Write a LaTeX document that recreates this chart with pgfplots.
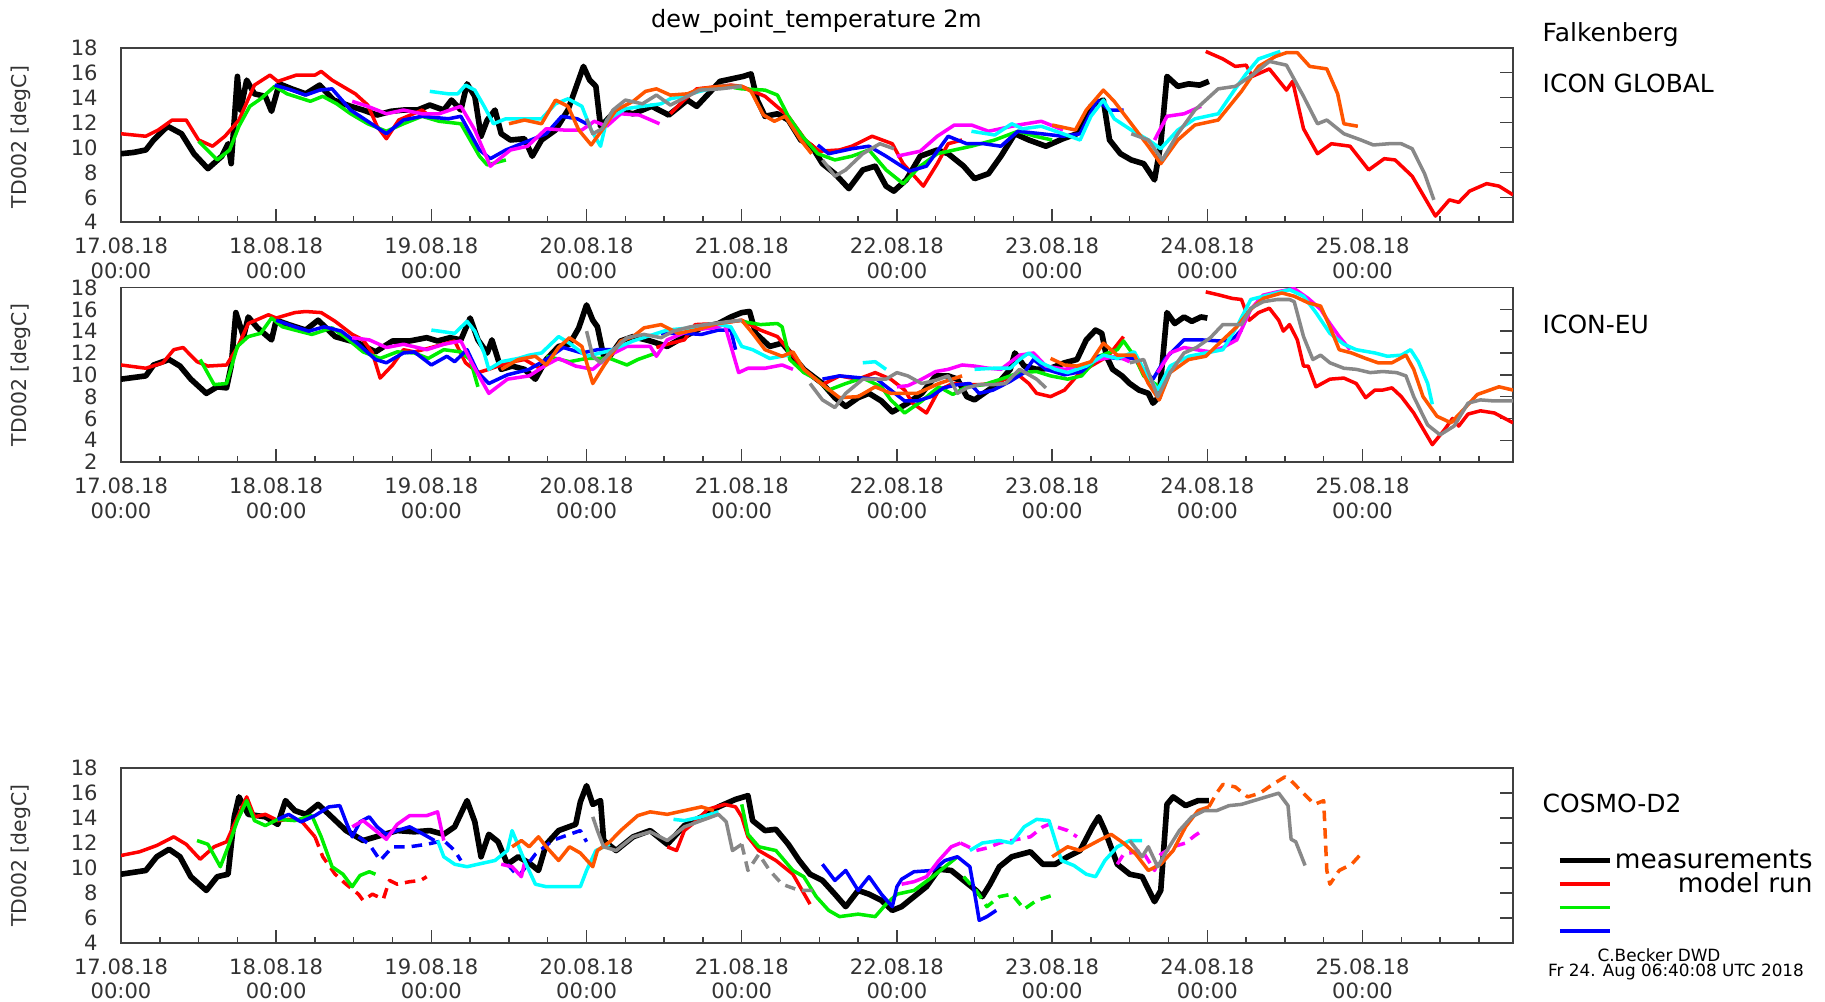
\documentclass[border=0pt]{standalone}
\usepackage{fontspec}
\setmainfont{DejaVu Sans}
\usepackage{pgfplots}
\pgfplotsset{compat=1.18}
\definecolor{cR}{RGB}{255,0,0}
\definecolor{cG}{RGB}{0,238,0}
\definecolor{cB}{RGB}{0,0,255}
\definecolor{cM}{RGB}{255,0,255}
\definecolor{cC}{RGB}{0,255,255}
\definecolor{cO}{RGB}{255,85,0}
\definecolor{cY}{RGB}{136,136,136}
\pgfplotsset{
  ms/.style={black, line width=1.6pt, line join=round},
  pr/.style={cR, line width=1pt, line join=round},
  pg/.style={cG, line width=1pt, line join=round},
  pb/.style={cB, line width=1pt, line join=round},
  pm/.style={cM, line width=1pt, line join=round},
  pc/.style={cC, line width=1pt, line join=round},
  po/.style={cO, line width=1pt, line join=round},
  py/.style={cY, line width=1pt, line join=round},
  dsh/.style={dash pattern=on 3pt off 2pt},
  panel/.style={
    scale only axis, width=13.92cm, height=1.746cm, anchor=south west,
    xmin=0, xmax=8.97,
    xtick={0,...,8}, minor xtick={0.25,0.5,...,8.75},
    xticklabels={{17.08.18\\00:00},{18.08.18\\00:00},{19.08.18\\00:00},{20.08.18\\00:00},{21.08.18\\00:00},{22.08.18\\00:00},{23.08.18\\00:00},{24.08.18\\00:00},{25.08.18\\00:00}},
    xticklabel style={align=center, font=\fontsize{6}{7}\selectfont, text=black!80, yshift=-0.35mm},
    yticklabel style={font=\fontsize{6}{7}\selectfont, text=black!80, xshift=-1.1mm},
    xtick pos=bottom, ytick pos=right, yticklabel pos=left,
    tick align=inside, major tick length=1.3mm, minor tick length=0.6mm,
    tick style={black!75, line width=0.4pt},
    axis line style={black!75, line width=0.5pt},
    /pgf/number format/assume math mode=true,
    clip=true,
  },
}
\begin{document}
\begin{tikzpicture}
\useasboundingbox (0,0) rectangle (18.25cm,10.01cm);
% ---------------- ICON GLOBAL ----------------
\begin{axis}[panel, at={(1.21cm,7.787cm)}, ymin=4, ymax=18, ytick={4,6,...,18}]
\addplot[ms] coordinates {(0,9.5)(0.08,9.6)(0.16,9.8)(0.21,10.6)(0.30,11.7)(0.39,11.1)(0.47,9.5)(0.56,8.3)(0.65,9.3)(0.69,10.3)(0.71,8.7)(0.75,15.7)(0.77,13)(0.81,15.4)(0.86,14.3)(0.93,14.1)(0.97,12.9)(1.02,15.1)(1.10,14.7)(1.19,14.3)(1.28,15)(1.37,13.8)(1.48,13.3)(1.56,13)(1.65,12.6)(1.74,12.9)(1.82,13)(1.91,13)(1.99,13.4)(2.08,13)(2.13,13.8)(2.19,13)(2.23,15.1)(2.28,14.1)(2.32,10.9)(2.36,12.2)(2.41,13)(2.45,11.1)(2.51,10.6)(2.60,10.7)(2.65,9.3)(2.71,10.6)(2.80,11.4)(2.88,13)(2.94,15.1)(2.98,16.5)(3.02,15.4)(3.06,14.9)(3.09,11.7)(3.13,12.2)(3.19,13)(3.30,12.7)(3.42,13.3)(3.53,12.6)(3.65,13.8)(3.71,13.3)(3.86,15.3)(4.01,15.7)(4.06,15.9)(4.10,13.8)(4.15,12.5)(4.23,12.7)(4.30,12.2)(4.38,10.6)(4.45,10.1)(4.52,8.7)(4.60,7.9)(4.69,6.7)(4.78,8.2)(4.86,8.5)(4.93,6.9)(4.98,6.5)(5.06,7.4)(5.15,9.3)(5.26,9.8)(5.33,9.5)(5.43,8.5)(5.50,7.5)(5.59,7.9)(5.67,9.3)(5.76,11.1)(5.85,10.6)(5.96,10.1)(6.07,10.7)(6.16,11.1)(6.25,13.3)(6.33,13.8)(6.37,10.6)(6.44,9.5)(6.51,9.0)(6.59,8.7)(6.66,7.4)(6.70,10.3)(6.74,15.7)(6.81,14.9)(6.88,15.1)(6.95,15.0)(7.01,15.3)};
\addplot[pr] coordinates {(0,11.1)(0.16,10.9)(0.24,11.4)(0.33,12.2)(0.42,12.2)(0.50,10.6)(0.59,10.1)(0.67,10.9)(0.76,12.2)(0.86,15)(0.96,15.8)(1.01,15.3)(1.13,15.8)(1.25,15.8)(1.29,16.1)(1.36,15.4)(1.51,14.3)(1.59,13.4)(1.65,11.7)(1.71,10.7)(1.79,12.2)(1.94,13)(1.99,12.5)};
\addplot[pr] coordinates {(3.54,12.7)(3.62,13.7)(3.71,14.7)(3.93,15.0)(4.0,14.9)(4.15,14.1)(4.30,12.5)(4.41,10.6)(4.50,9.7)(4.63,9.8)(4.71,10.1)(4.84,10.9)(4.97,10.3)(5.04,8.7)(5.17,6.9)(5.26,8.7)(5.33,10.3)(5.42,10.6)};
\addplot[pr] coordinates {(6.99,17.7)(7.10,17.1)(7.18,16.5)(7.25,16.6)(7.29,15.7)(7.40,16.3)(7.51,14.6)(7.55,15.3)(7.62,11.5)(7.71,9.5)(7.80,10.3)(7.92,10.1)(8.04,8.2)(8.14,9.1)(8.21,9.0)(8.32,7.7)(8.47,4.5)(8.56,5.8)(8.62,5.6)(8.69,6.5)(8.80,7.1)(8.88,6.9)(8.97,6.2)};
\addplot[pg] coordinates {(0.50,10.5)(0.62,9.0)(0.70,9.8)(0.76,11.7)(0.83,13.3)(0.90,13.9)(0.99,14.9)(1.07,14.3)(1.22,13.7)(1.30,14.1)(1.39,13.5)(1.48,12.7)(1.59,11.9)(1.71,11.3)(1.82,11.9)(1.94,12.5)(2.05,12.1)(2.19,11.9)(2.25,10.6)(2.31,9.3)(2.36,8.6)(2.48,9.0)};
\addplot[pg] coordinates {(3.95,14.8)(4.0,14.7)(4.15,14.6)(4.23,14.2)(4.30,12.5)(4.39,10.9)(4.49,9.5)(4.60,9.0)(4.71,9.3)(4.82,9.8)(4.93,8.2)(5.04,7.1)(5.15,8.5)(5.26,9.5)(5.37,9.8)(5.48,10.1)(5.63,10.6)(5.78,11.3)(5.89,10.9)(6.0,10.6)};
\addplot[pb] coordinates {(0.99,15)(1.10,14.6)(1.19,14.2)(1.28,14.6)(1.36,14.7)(1.48,13)(1.59,12.1)(1.71,11.1)(1.82,12.2)(1.94,12.5)(2.11,12.3)(2.19,12.5)(2.31,9.8)(2.38,9.1)(2.48,9.8)(2.62,10.5)(2.74,11.1)(2.84,12.5)(2.94,12.3)(3.03,11.7)};
\addplot[pb] coordinates {(4.49,10.2)(4.56,9.5)(4.71,9.9)(4.82,10.1)(4.93,9.3)(5.08,8.1)(5.19,8.5)(5.33,10.9)(5.45,10.3)(5.56,10.3)(5.67,10.1)(5.78,11.3)(5.93,11.1)(6.07,10.9)(6.18,11.1)(6.29,13.8)(6.37,13)(6.46,13)};
\addplot[pm] coordinates {(1.49,13.7)(1.59,13.3)(1.71,12.7)(1.82,13)(1.94,12.7)(2.05,12.7)(2.19,13.3)(2.28,11.4)(2.38,8.5)(2.51,9.8)(2.62,10.1)(2.74,11.5)(2.85,11.4)(2.97,11.4)(3.05,12.1)(3.13,11.7)(3.22,12.7)(3.34,12.6)(3.47,11.9)};
\addplot[pm] coordinates {(5.00,9.3)(5.15,9.7)(5.26,10.9)(5.37,11.8)(5.48,11.8)(5.59,11.3)(5.78,11.8)(5.93,12.1)(6.07,11.4)};
\addplot[pm] coordinates {(6.66,10.6)(6.74,12.5)(6.85,12.7)(6.96,13.3)};
\addplot[pc] coordinates {(1.99,14.5)(2.11,14.3)(2.17,14.3)(2.22,15)(2.28,14.6)(2.34,13.3)(2.40,11.9)(2.48,12.3)(2.60,12.3)(2.71,12.3)(2.80,13.5)(2.88,13.9)(2.97,13.3)(3.03,11.4)(3.09,10.1)(3.13,12.2)(3.25,13.1)(3.36,13.3)(3.48,13.5)(3.54,13.9)(3.62,14.1)(3.73,14.5)(3.86,14.9)(4.0,14.9)};
\addplot[pc] coordinates {(5.48,11.3)(5.63,11)(5.74,11.9)(5.81,11.5)(5.93,11.7)(6.07,11.1)(6.18,10.6)(6.25,12.5)(6.33,13.8)(6.40,12.3)(6.51,11.4)(6.62,10.6)(6.70,9.9)(6.81,11.4)(6.92,12.3)(7.07,12.7)(7.18,14.7)(7.25,15.9)(7.33,17.1)(7.47,17.7)};
\addplot[po] coordinates {(2.50,11.9)(2.60,12.2)(2.71,11.9)(2.80,13.8)(2.88,13.3)(2.95,11.4)(3.03,10.2)(3.10,11.4)(3.19,13)(3.30,13.7)(3.38,14.5)(3.45,14.7)(3.54,14.2)(3.65,14.3)(3.73,14.7)(3.86,14.9)(4.0,14.9)(4.06,14.5)(4.14,12.6)(4.21,12.1)(4.28,12.5)(4.38,10.6)(4.45,9.5)};
\addplot[po] coordinates {(6.0,11.8)(6.15,11.4)(6.22,13)(6.33,14.6)(6.40,13.7)(6.51,11.9)(6.62,10.1)(6.70,8.7)(6.81,10.6)(6.92,11.8)(7.07,12.2)(7.22,14.5)(7.33,16.5)(7.44,17.3)(7.51,17.6)(7.58,17.6)(7.66,16.5)(7.77,16.3)(7.84,14.3)(7.88,11.9)(7.97,11.7)};
\addplot[py] coordinates {(3.00,12.3)(3.04,11.1)(3.10,11.5)(3.17,13)(3.25,13.8)(3.36,13.5)(3.45,14.2)(3.54,13.4)(3.65,14.1)(3.73,14.6)(3.86,14.7)(4.0,14.9)};
\addplot[py] coordinates {(4.52,9.0)(4.60,7.7)(4.67,8.2)(4.78,9.5)(4.89,10.3)(4.98,9.9)};
\addplot[py] coordinates {(6.51,11.1)(6.62,10.6)(6.71,9.0)(6.81,11.1)(6.92,13)(7.07,14.7)(7.18,14.9)(7.29,15.8)(7.40,16.9)(7.51,16.6)(7.62,14.1)(7.71,11.9)(7.77,12.2)(7.88,11.1)(7.99,10.6)(8.07,10.2)(8.17,10.3)(8.25,10.3)(8.32,9.9)(8.40,7.9)(8.46,5.8)};
\end{axis}
% ---------------- ICON-EU ----------------
\begin{axis}[panel, at={(1.21cm,5.389cm)}, ymin=2, ymax=18, ytick={2,4,...,18}]
\addplot[ms] coordinates {(0,9.6)(0.16,9.9)(0.21,10.9)(0.31,11.4)(0.38,10.8)(0.45,9.6)(0.55,8.3)(0.62,8.9)(0.68,8.8)(0.71,10.8)(0.74,15.7)(0.79,13.5)(0.82,15.3)(0.88,14.3)(0.97,13.2)(1.0,15)(1.08,14.6)(1.19,14.1)(1.27,15)(1.38,13.5)(1.53,12.9)(1.64,12.1)(1.75,13.1)(1.86,13.1)(1.97,13.4)(2.04,13.1)(2.12,13.4)(2.19,13.2)(2.25,15.2)(2.30,13.2)(2.36,12)(2.39,13.2)(2.45,10.5)(2.52,10.8)(2.60,10.5)(2.67,9.6)(2.74,11.4)(2.82,12.6)(2.89,12.8)(2.95,14.3)(3.0,16.4)(3.04,15)(3.07,14.4)(3.11,11.7)(3.15,11.7)(3.22,13.1)(3.30,13.5)(3.41,13.1)(3.52,12.6)(3.63,13.5)(3.74,14.3)(3.85,14.7)(3.93,15.3)(4.0,15.7)(4.05,15.8)(4.09,13.8)(4.18,12.6)(4.26,12.9)(4.33,11.7)(4.40,10.5)(4.52,9.2)(4.60,7.9)(4.67,7.1)(4.75,7.9)(4.82,8.3)(4.90,7.6)(4.97,6.6)(5.07,7.4)(5.16,8.3)(5.25,9.9)(5.33,9.9)(5.39,9.6)(5.45,8)(5.50,7.7)(5.56,8.3)(5.65,9.2)(5.73,10.5)(5.76,12)(5.82,10.8)(5.90,10.5)(5.99,10.6)(6.08,11.1)(6.16,11.4)(6.22,13.2)(6.28,14.1)(6.32,13.8)(6.35,11.7)(6.39,10.5)(6.45,9.9)(6.50,9.2)(6.56,8.6)(6.62,8.3)(6.65,7.4)(6.69,8)(6.72,12.6)(6.74,15.7)(6.79,14.7)(6.85,15.3)(6.90,14.9)(6.96,15.3)(7.0,15.2)};
\addplot[pr] coordinates {(0,10.9)(0.16,10.6)(0.27,11.1)(0.34,12.3)(0.40,12.5)(0.49,11.2)(0.56,10.8)(0.68,10.9)(0.75,12.5)(0.82,14.7)(0.95,15.5)(1.0,15.2)(1.12,15.7)(1.19,15.8)(1.29,15.7)(1.38,14.9)(1.49,13.7)(1.56,13.2)(1.62,12)(1.67,9.7)(1.75,10.9)(1.82,12.3)(1.89,12.1)(2.0,12.5)(2.15,13.1)(2.22,11.1)(2.30,10.2)(2.37,10.5)(2.49,11.1)(2.60,11.4)(2.71,10.5)};
\addplot[pr] coordinates {(3.45,12.5)(3.52,12.8)(3.63,13.2)(3.70,14.6)(3.85,14.7)(4.0,15)(4.12,14.1)(4.23,13.5)(4.30,12.3)(4.40,10.5)(4.52,9.1)(4.63,9.9)(4.75,9.6)(4.86,10.2)(4.96,9.6)(5.05,8.6)(5.10,7.4)(5.19,6.5)(5.27,8.6)(5.36,9.2)(5.45,9.1)(5.53,9.1)(5.62,9.2)(5.70,9.6)(5.79,9.9)(5.85,9.2)(5.90,8.3)(5.99,8)(6.08,8.6)(6.16,9.9)(6.25,10.8)(6.36,11.7)(6.46,13.5)};
\addplot[pr] coordinates {(6.99,17.6)(7.08,17.3)(7.16,17)(7.22,16.9)(7.27,15)(7.33,15.7)(7.40,16.1)(7.46,15)(7.49,14)(7.53,14.6)(7.58,13.2)(7.62,10.8)(7.65,10.8)(7.70,8.9)(7.79,9.6)(7.88,9.7)(7.96,9.2)(8.02,7.9)(8.08,8.6)(8.13,8.6)(8.19,8.8)(8.25,8)(8.33,6.5)(8.45,3.6)(8.53,5)(8.58,6)(8.62,5.3)(8.68,6.4)(8.76,6.7)(8.85,6.5)(8.97,5.6)};
\addplot[pg] coordinates {(0.51,11.4)(0.60,9.1)(0.68,9.2)(0.75,12.6)(0.82,13.5)(0.90,13.8)(0.97,15.2)(1.04,14.4)(1.12,14.1)(1.23,13.7)(1.36,14.3)(1.45,13.4)(1.56,12.1)(1.67,11.5)(1.78,12.1)(1.89,12)(1.98,11.5)(2.08,12.3)(2.19,12.1)(2.25,11.4)(2.30,8.9)};
\addplot[pg] coordinates {(2.74,11.7)(2.89,11.2)(3.0,11.5)(3.15,11.5)(3.26,10.9)(3.33,11.4)(3.45,12)};
\addplot[pg] coordinates {(4.0,14.9)(4.12,14.6)(4.23,14.7)(4.26,14.4)(4.31,11.4)(4.40,10.2)(4.48,9.6)(4.56,8.6)(4.67,9.2)(4.78,9.7)(4.90,8.9)(4.96,7.7)(5.05,6.5)(5.16,7.6)(5.27,8.9)(5.36,8.2)(5.45,8.9)(5.56,9.1)(5.67,9.6)(5.79,10.2)(5.90,10.3)(5.99,9.9)(6.10,9.6)(6.19,9.9)(6.30,11.7)(6.42,12.3)(6.46,13.1)(6.53,11.7)(6.59,9.9)(6.68,9.0)};
\addplot[pb] coordinates {(1.0,15)(1.12,14.4)(1.21,14)(1.31,14.4)(1.42,14)(1.53,12.8)(1.64,11.4)(1.71,11.1)(1.82,12)(1.89,12.1)(2.0,10.9)(2.10,11.7)(2.15,11.2)(2.23,12.3)(2.30,10.2)(2.37,9.2)(2.49,10)(2.63,10.5)(2.74,11.4)(2.85,12.5)(2.97,12)(3.07,12.3)(3.19,12.3)};
\addplot[pb] coordinates {(3.48,13.8)(3.63,13.8)(3.74,13.7)(3.85,14.1)(3.93,14.1)(3.96,12.3)};
\addplot[pb] coordinates {(4.52,9.6)(4.63,9.9)(4.78,9.7)(4.87,9.6)(4.96,8.6)(5.05,7.6)(5.13,7.6)(5.22,8)(5.30,8.8)(5.39,9.1)(5.47,9.2)(5.53,8.3)(5.62,8.6)(5.73,9.4)(5.82,10.2)(5.88,11.4)(5.96,10.5)(6.08,10)(6.19,10.3)(6.30,11.7)(6.42,11.5)(6.53,11.5)(6.59,10.5)(6.65,9.6)(6.73,11.5)(6.85,13.2)(6.96,13.2)(7.08,13.1)(7.16,13.2)(7.22,14.1)};
\addplot[pm] coordinates {(1.49,13.4)(1.60,13.2)(1.71,12.5)(1.82,12.8)(1.97,12.3)(2.08,12.8)(2.19,13.1)(2.26,11.1)(2.37,8.3)(2.49,9.6)(2.63,9.9)(2.74,10.9)(2.82,11.5)(2.93,10.8)(3.04,10.5)(3.15,11.8)(3.26,12.6)(3.41,12.6)(3.45,11.7)(3.52,13.2)(3.67,14.1)(3.82,14.3)(3.89,14.6)(3.98,10.2)(4.04,10.6)(4.15,10.6)(4.26,10.9)(4.33,10.5)};
\addplot[pm] coordinates {(5.0,8.9)(5.07,9.0)(5.16,9.6)(5.25,10.3)(5.33,10.5)(5.42,10.9)(5.50,10.8)(5.59,10.6)(5.67,10.5)(5.79,11.8)(5.88,12)(5.96,10.8)(6.08,10.5)(6.19,10.8)(6.30,11.4)(6.42,11.7)(6.50,11.2)};
\addplot[pm] coordinates {(6.68,10.2)(6.76,12)(6.85,12.5)(6.93,12.3)(7.02,12.1)(7.10,12.5)(7.19,13.2)(7.28,16)(7.36,17.3)(7.45,17.6)(7.56,17.9)(7.65,17)(7.73,16)(7.79,14.7)(7.85,13.5)(7.92,12.3)};
\addplot[pc] coordinates {(2.0,14.1)(2.15,13.8)(2.23,14.9)(2.28,14)(2.34,12)(2.37,10.5)(2.45,11.2)(2.56,11.5)(2.63,11.8)(2.71,12)(2.82,13.5)(2.89,12.9)(3.0,11.7)(3.15,12.2)(3.30,13.1)(3.52,14.1)(3.67,14.3)(3.82,14.7)(3.93,14.4)(4.0,12.6)(4.07,12.3)(4.18,11.5)(4.30,11.8)};
\addplot[pc] coordinates {(4.78,11.1)(4.86,11.2)(4.93,10.5)};
\addplot[pc] coordinates {(5.50,10.5)(5.62,10.6)(5.73,10.6)(5.79,11.4)(5.85,12)(5.93,11.1)(6.02,10.5)(6.10,10.2)(6.22,10.8)(6.33,11.8)(6.42,11.5)(6.53,12.1)(6.59,10.5)(6.68,8.6)(6.76,10.8)(6.88,11.7)(6.99,12)(7.10,12.3)(7.19,14.4)(7.28,16.9)(7.39,17.3)(7.53,17.8)(7.62,17.2)(7.70,15.7)(7.79,13.8)(7.88,12.8)(7.96,12.3)(8.08,12)(8.16,11.7)(8.25,11.8)(8.31,12.3)(8.36,11.2)(8.42,9.2)(8.45,7.3)};
\addplot[po] coordinates {(2.45,10.5)(2.56,11.4)(2.67,11.7)(2.74,10.9)(2.82,12.5)(2.89,13.4)(2.97,12.6)(3.04,9.2)(3.11,10.8)(3.22,13.1)(3.30,13.5)(3.37,14.3)(3.48,14.6)(3.59,13.8)(3.70,14.1)(3.85,14.7)(4.0,15)(4.07,13.8)(4.15,12.3)(4.26,11.7)(4.33,12.1)(4.40,10.5)(4.52,9.1)(4.63,7.9)(4.75,8)(4.86,8.9)(4.96,8.3)(5.13,8.3)(5.27,9.2)(5.42,9.9)};
\addplot[po] coordinates {(5.99,11.5)(6.08,10.9)(6.16,10.8)(6.25,11.2)(6.33,12.9)(6.42,11.8)(6.53,11.8)(6.62,9.2)(6.69,7.7)(6.76,10.2)(6.88,11.4)(6.99,11.7)(7.10,13.2)(7.19,14.4)(7.28,16)(7.36,17)(7.48,17.5)(7.56,17.2)(7.65,16.6)(7.73,16.3)(7.79,14.4)(7.85,12.3)(7.93,12)(8.02,11.5)(8.10,11.1)(8.19,11.1)(8.28,11.8)(8.33,10.5)(8.39,8)(8.48,6.2)(8.57,5.6)(8.65,6.8)(8.74,8.2)(8.82,8.6)(8.88,8.9)(8.97,8.6)};
\addplot[py] coordinates {(3.0,14)(3.04,11.7)(3.09,11.1)(3.15,12)(3.26,13.4)(3.37,13.7)(3.48,13.4)(3.56,14)(3.67,14.4)(3.82,14.7)(3.93,14.9)(4.0,15)};
\addplot[py] coordinates {(4.44,9.2)(4.52,7.7)(4.60,7)(4.67,8.3)(4.78,9.6)(4.93,9.6)(5.0,10.2)(5.07,9.9)(5.16,9.2)(5.25,9.5)(5.33,9.9)(5.39,8.3)(5.45,8.8)(5.53,9.1)(5.62,9.1)(5.70,9.2)(5.79,10.5)(5.90,9.6)(5.96,8.8)};
\addplot[py] coordinates {(6.50,11.1)(6.59,11.4)(6.68,8)(6.76,10.2)(6.85,12)(6.93,12.5)(7.02,13.4)(7.10,14.6)(7.22,14.6)(7.28,16.1)(7.36,16.7)(7.45,16.9)(7.53,16.9)(7.56,16.7)(7.62,13.5)(7.68,11.4)(7.73,11.8)(7.79,11.1)(7.88,10.6)(7.96,10.5)(8.05,10.2)(8.13,10.3)(8.22,10.2)(8.28,9.9)(8.33,8)(8.42,5.4)(8.50,4.5)(8.59,5.3)(8.68,7.4)(8.76,7.7)(8.85,7.6)(8.97,7.6)};
\end{axis}
% ---------------- COSMO-D2 ----------------
\begin{axis}[panel, at={(1.21cm,0.582cm)}, ymin=4, ymax=18, ytick={4,6,...,18},
  legend image code/.code={\draw[#1] (0cm,0.25mm) -- (0.5cm,0.25mm);},
  legend cell align=right,
  legend style={at={(axis description cs:1.032,0.524)}, anchor=north west, draw=none, fill=none,
    inner sep=0pt, outer sep=0pt, row sep=0pt,
    font=\fontsize{7.5}{8}\selectfont,
    nodes={inner ysep=0pt, inner xsep=0.3mm, text height=1.75mm, text depth=0.6mm}}]
\addlegendimage{black, line width=1.25pt}\addlegendentry{measurements}
\addlegendimage{cR, line width=0.9pt}\addlegendentry{model run}
\addlegendimage{cG, line width=0.9pt}\addlegendentry{}
\addlegendimage{cB, line width=0.9pt}\addlegendentry{}
\addplot[ms] coordinates {(0,9.5)(0.16,9.8)(0.23,10.9)(0.31,11.5)(0.38,10.9)(0.45,9.3)(0.55,8.2)(0.62,9.3)(0.69,9.5)(0.73,14.1)(0.76,15.7)(0.82,14.3)(0.93,14.1)(1.01,13.5)(1.06,15.4)(1.12,14.6)(1.19,14.3)(1.27,15.1)(1.34,14.3)(1.45,13)(1.56,12.2)(1.67,12.6)(1.78,13)(1.89,12.9)(1.99,13)(2.08,12.7)(2.15,13.3)(2.23,15.4)(2.28,13.7)(2.32,10.9)(2.37,12.7)(2.43,12.1)(2.49,10.3)(2.56,10.9)(2.63,10.4)(2.69,9.8)(2.74,11.9)(2.82,13)(2.93,13.5)(2.96,15.3)(3.0,16.6)(3.04,15.1)(3.09,15.4)(3.11,12.2)(3.19,11.4)(3.30,12.5)(3.41,13)(3.52,11.9)(3.63,13.4)(3.74,14.1)(3.85,14.9)(3.96,15.5)(4.04,15.8)(4.07,13.8)(4.15,13)(4.22,13.1)(4.30,11.9)(4.37,10.6)(4.44,9.5)(4.52,9)(4.60,7.9)(4.67,6.9)(4.75,8.2)(4.82,7.9)(4.90,7.4)(4.97,6.6)(5.03,6.9)(5.11,7.7)(5.19,8.5)(5.27,9.9)(5.35,9.8)(5.43,9)(5.51,8.2)(5.55,7.7)(5.60,8.7)(5.66,10.1)(5.74,10.9)(5.86,11.3)(5.94,10.3)(6.02,10.3)(6.10,10.9)(6.18,11.4)(6.26,13.3)(6.30,14.1)(6.34,13)(6.42,10.3)(6.50,9.5)(6.58,9.3)(6.66,7.3)(6.70,8.2)(6.74,15.1)(6.78,15.7)(6.86,15)(6.94,15.4)(7.01,15.4)};
\addplot[pr] coordinates {(0,11)(0.12,11.3)(0.23,11.8)(0.34,12.5)(0.42,11.9)(0.51,10.7)(0.60,11.7)(0.68,12.1)(0.73,13.5)(0.81,15.7)(0.86,14.1)(0.93,14.3)(1.01,13.8)(1.08,13.9)(1.16,13.8)(1.25,12.5)};
\addplot[pr, dsh] coordinates {(1.25,12.5)(1.30,10.9)(1.38,9.5)(1.45,8.7)(1.53,7.9)(1.56,7.4)(1.62,7.9)(1.69,7.5)(1.73,9)(1.78,8.7)(1.86,8.9)(1.93,9)(1.97,9.3)};
\addplot[pr] coordinates {(3.52,11.7)(3.58,11.4)(3.63,13)(3.70,13.7)(3.78,14.7)(3.89,15.1)(3.96,14.9)(4.0,14.1)(4.04,12.5)(4.11,11.4)(4.22,10.6)(4.33,9.5)(4.44,7.1)};
\addplot[pg] coordinates {(0.49,12.2)(0.56,11.9)(0.64,10.1)(0.69,11.7)(0.75,13.8)(0.81,15.4)(0.86,13.8)(0.93,13.4)(1.01,13.9)(1.12,13.8)(1.23,14.2)(1.29,12.5)(1.36,10.1)(1.43,9.5)(1.49,8.5)(1.54,9.4)(1.60,9.7)(1.64,9.5)};
\addplot[pg] coordinates {(4.0,15.1)(4.04,12.7)(4.11,11.7)(4.22,11.4)(4.33,9.8)(4.40,9.3)(4.48,7.7)(4.56,6.6)(4.63,6.1)(4.75,6.3)(4.86,6.1)(4.93,7.1)(5.0,7.9)(5.11,8.2)(5.23,9.3)(5.35,10.5)(5.39,10.9)};
\addplot[pg, dsh] coordinates {(5.43,9.3)(5.51,8.2)(5.58,6.9)(5.66,7.7)(5.74,7.9)(5.82,6.7)(5.90,7.4)(6.0,7.8)};
\addplot[pb] coordinates {(1.01,13.9)(1.08,14.3)(1.16,13.7)(1.25,14.2)(1.34,14.9)(1.41,15)(1.45,13.7)(1.49,12.5)(1.54,13.7)(1.60,14.1)(1.65,13.3)(1.71,12.7)(1.78,13)(1.86,13.3)(1.95,12.7)(2.02,12.2)};
\addplot[pb, dsh] coordinates {(1.53,12.5)(1.60,11.9)(1.67,10.6)(1.75,11.7)(1.86,11.7)(1.97,11.9)(2.08,12.2)(2.15,11.4)(2.19,10.6)};
\addplot[pb, dsh] coordinates {(2.49,10.3)(2.56,9.3)(2.67,11.1)(2.78,12.2)(2.89,12.7)(2.96,13)(3.0,12.1)};
\addplot[pb] coordinates {(4.52,10.3)(4.60,9)(4.67,9.8)(4.75,8.2)(4.82,9.3)(4.90,7.9)(4.97,6.9)(5.0,8.5)(5.03,9.1)(5.11,9.7)(5.23,9.8)(5.31,10.6)(5.39,10.9)(5.47,10.1)(5.51,7.3)(5.53,5.8)(5.58,6.1)(5.64,6.6)};
\addplot[pm] coordinates {(1.49,13.3)(1.56,13.8)(1.64,13)(1.71,12.3)(1.78,13.5)(1.86,14.2)(1.97,14.2)(2.04,14.5)(2.08,12.2)};
\addplot[pm] coordinates {(2.45,10.3)(2.52,10.1)(2.58,9.3)(2.60,10.4)};
\addplot[pm] coordinates {(5.03,8.7)(5.11,8.9)(5.19,9.3)(5.27,10.6)(5.35,11.7)(5.41,12)};
\addplot[pm, dsh] coordinates {(5.41,12)(5.51,11.4)(5.58,11.6)(5.66,12)(5.74,12.2)(5.86,12.5)(5.94,13.3)(5.98,13.5)(6.10,13)(6.16,12.5)};
\addplot[pm, dsh] coordinates {(6.42,10.3)(6.46,11.1)(6.58,11.4)(6.66,9.8)(6.70,11.1)(6.78,11.7)(6.86,12)(6.92,12.6)(6.98,13.1)};
\addplot[pc] coordinates {(2.04,12.2)(2.08,10.9)(2.15,10.3)(2.23,10.1)(2.30,10.3)(2.41,10.6)(2.49,11.4)(2.52,13)(2.60,10.6)(2.67,8.7)(2.74,8.5)(2.85,8.5)(2.96,8.5)(3.0,9.8)(3.06,11.4)(3.15,11.9)};
\addplot[pc] coordinates {(3.56,13.9)(3.63,13.8)(3.74,14.1)(3.85,14.5)};
\addplot[pc] coordinates {(5.47,11.4)(5.55,12)(5.66,12.2)(5.74,12)(5.82,13.3)(5.90,13.9)(5.98,13.8)(6.02,12.2)(6.06,10.6)(6.14,10.2)(6.22,9.5)(6.28,9.3)(6.34,10.6)(6.42,11.7)(6.50,12.2)(6.58,12.2)};
\addplot[po] coordinates {(2.52,11.7)(2.58,12.2)(2.63,11.7)(2.69,12.5)(2.74,11.7)(2.82,10.6)(2.89,11.7)(2.96,11.2)(3.04,10.1)(3.07,11.4)(3.15,12.1)(3.22,13)(3.33,14.2)(3.41,14.5)(3.52,14.3)(3.63,14.6)(3.74,14.9)(3.82,14.6)};
\addplot[po] coordinates {(6.0,10.9)(6.10,11.7)(6.18,11.4)(6.30,12.2)(6.38,12.7)(6.46,12)(6.54,11.1)(6.62,9.8)(6.70,10.3)(6.78,11.4)(6.86,13.3)(6.94,14.6)(7.01,14.9)};
\addplot[po, dsh] coordinates {(7.01,14.9)(7.06,16)(7.10,16.7)(7.18,16.5)(7.26,15.7)(7.34,16)(7.42,16.7)(7.50,17.3)(7.54,17)(7.61,16.1)(7.69,15.1)(7.75,15.4)(7.77,9.8)(7.79,8.7)(7.85,9.8)(7.93,10.3)(8.01,11.4)};
\addplot[py] coordinates {(3.04,14.1)(3.07,13)(3.11,11.7)(3.19,11.4)(3.30,12.5)(3.41,12.9)(3.52,12.2)(3.63,13.3)(3.74,13.8)(3.85,14.3)(3.90,13.7)(3.94,11.4)(4.0,11.9)};
\addplot[py, dsh] coordinates {(4.0,11.9)(4.04,9.8)(4.11,11.1)(4.18,9.8)(4.26,8.7)(4.37,8.2)(4.48,8.2)};
\addplot[py] coordinates {(6.50,12.2)(6.58,10.9)(6.62,11.7)(6.68,10.1)(6.74,11.4)(6.82,13)(6.90,14.1)(6.98,14.6)(7.06,14.6)(7.14,15)(7.22,15.1)(7.30,15.4)(7.38,15.7)(7.46,16)(7.52,15)(7.54,12.3)(7.57,12.1)(7.63,10.2)};
\end{axis}
% ---------------- texts ----------------
\node[font=\fontsize{6.8}{8}\selectfont] at (8.165cm,9.80cm) {dew\_point\_temperature 2m};
\node[anchor=west, font=\fontsize{7.1}{8}\selectfont, inner sep=0pt] at (15.42cm,9.667cm) {Falkenberg};
\node[anchor=west, font=\fontsize{7.1}{8}\selectfont, inner sep=0pt] at (15.42cm,9.18cm) {ICON GLOBAL};
\node[anchor=west, font=\fontsize{7.1}{8}\selectfont, inner sep=0pt] at (15.42cm,6.77cm) {ICON-EU};
\node[anchor=west, font=\fontsize{7.1}{8}\selectfont, inner sep=0pt] at (15.42cm,1.98cm) {COSMO-D2};
\node[rotate=90, font=\fontsize{5.8}{7}\selectfont, text=black!80] at (0.21cm,8.64cm) {TD002 [degC]};
\node[rotate=90, font=\fontsize{5.8}{7}\selectfont, text=black!80] at (0.21cm,6.26cm) {TD002 [degC]};
\node[rotate=90, font=\fontsize{5.8}{7}\selectfont, text=black!80] at (0.21cm,1.455cm) {TD002 [degC]};
\node[font=\fontsize{4.8}{5.5}\selectfont, inner sep=0pt] at (16.59cm,0.457cm) {C.Becker DWD};
\node[font=\fontsize{4.8}{5.5}\selectfont, inner sep=0pt] at (16.76cm,0.29cm) {Fr 24. Aug 06:40:08 UTC 2018};
\end{tikzpicture}
\end{document}
